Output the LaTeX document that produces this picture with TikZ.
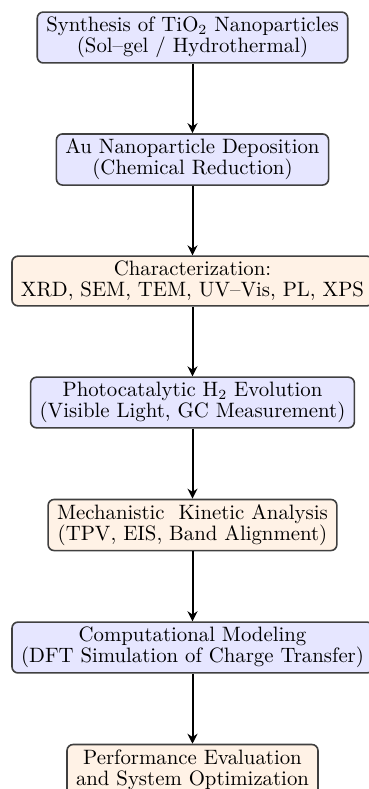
\documentclass[tikz,border=0pt]{standalone}
\usetikzlibrary{arrows.meta}
\definecolor{boxblue}{HTML}{E6E6FF}
\definecolor{boxorange}{HTML}{FFF2E6}
\begin{document}
\begin{tikzpicture}[x=0.5pt,y=-0.5pt,
  base/.style={draw=black!75, line width=0.8pt, rounded corners=3pt, align=center,
    inner xsep=4.5pt, inner ysep=2.5pt, minimum height=24.5pt,
    font=\fontsize{10.4}{10.5}\selectfont},
  bluebox/.style={base, fill=boxblue},
  orangebox/.style={base, fill=boxorange},
  arr/.style={-{Stealth[length=5pt,width=5pt]}, line width=1pt, black}]
\clip (0,0) rectangle (369,789);
\useasboundingbox (0,0) rectangle (369,789);
\node[bluebox] (n1) at (192.5,37.5) {Synthesis of TiO$_2$ Nanoparticles\\(Sol--gel / Hydrothermal)};
\node[bluebox] (n2) at (192.5,159.5) {Au Nanoparticle Deposition\\(Chemical Reduction)};
\node[orangebox] (n3) at (192.5,281) {Characterization:\\XRD, SEM, TEM, UV--Vis, PL, XPS};
\node[bluebox] (n4) at (192.5,402.5) {Photocatalytic H$_2$ Evolution\\(Visible Light, GC Measurement)};
\node[orangebox] (n5) at (192.5,525) {Mechanistic\ \ Kinetic Analysis\\(TPV, EIS, Band Alignment)};
\node[bluebox] (n6) at (192.5,647.5) {Computational Modeling\\(DFT Simulation of Charge Transfer)};
\node[orangebox] (n7) at (192.5,769.5) {Performance Evaluation\\and System Optimization};
\draw[arr] (n1) -- (n2);
\draw[arr] (n2) -- (n3);
\draw[arr] (n3) -- (n4);
\draw[arr] (n4) -- (n5);
\draw[arr] (n5) -- (n6);
\draw[arr] (n6) -- (n7);
\end{tikzpicture}
\end{document}
